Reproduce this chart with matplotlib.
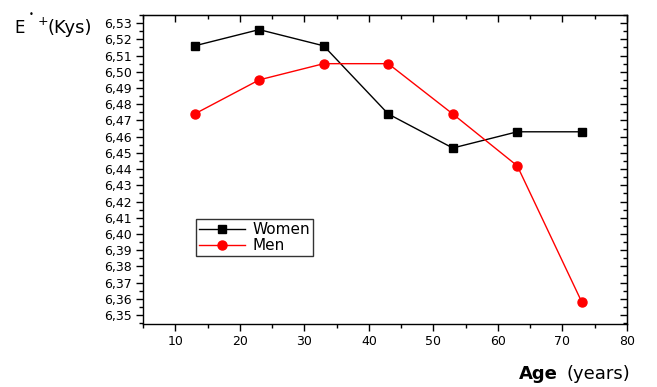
import matplotlib
matplotlib.use("Agg")
import matplotlib.pyplot as plt
from matplotlib.ticker import MultipleLocator

plt.rcParams['font.family'] = ['DejaVu Sans']

ages = [13, 23, 33, 43, 53, 63, 73]
women = [6.516, 6.526, 6.516, 6.474, 6.453, 6.463, 6.463]
men = [6.474, 6.495, 6.505, 6.505, 6.474, 6.442, 6.358]

fig = plt.figure(figsize=(6.57, 3.87), dpi=100)
ax = fig.add_axes([0.2177, 0.1628, 0.7366, 0.7984])

ax.plot(ages, women, color='black', lw=1, marker='s', ms=6, label='Women')
ax.plot(ages, men, color='red', lw=1, marker='o', ms=6.5, label='Men')

ax.set_xlim(5, 80)
ax.set_ylim(6.3445, 6.535)
ax.xaxis.set_major_locator(MultipleLocator(10))
ax.xaxis.set_minor_locator(MultipleLocator(5))
ax.yaxis.set_major_locator(MultipleLocator(0.01))
ax.yaxis.set_minor_locator(MultipleLocator(0.005))
ax.yaxis.set_major_formatter(lambda v, p: f"{v:.2f}".replace('.', ','))

ax.tick_params(which='both', direction='out', labelsize=9, width=1, pad=3)
ax.tick_params(which='major', length=5)
ax.tick_params(which='minor', length=3)

# top and right axes: inward ticks, no labels
tx = ax.secondary_xaxis('top')
tx.xaxis.set_major_locator(MultipleLocator(10))
tx.xaxis.set_minor_locator(MultipleLocator(5))
tx.tick_params(which='both', direction='in', labeltop=False, width=1)
tx.tick_params(which='major', length=5)
tx.tick_params(which='minor', length=3)
ty = ax.secondary_yaxis('right')
ty.yaxis.set_major_locator(MultipleLocator(0.01))
ty.yaxis.set_minor_locator(MultipleLocator(0.005))
ty.tick_params(which='both', direction='in', labelright=False, width=1)
ty.tick_params(which='major', length=5)
ty.tick_params(which='minor', length=3)

for s in ax.spines.values():
    s.set_linewidth(1)

leg = ax.legend(loc='lower left', bbox_to_anchor=(0.11, 0.22), fontsize=11,
                frameon=True, fancybox=False, edgecolor='black',
                handlelength=3.0, borderpad=0.2, labelspacing=0.05,
                handletextpad=0.5, borderaxespad=0)
leg.get_frame().set_linewidth(1)

fig.text(0.022, 0.915, "E", fontsize=12)
fig.text(0.044, 0.955, "•", fontsize=6)
fig.text(0.058, 0.935, "+", fontsize=9)
fig.text(0.072, 0.915, "(Kys)", fontsize=13)

fig.text(0.79, 0.02, "Age", fontsize=13, fontweight='bold')
fig.text(0.862, 0.02, "(years)", fontsize=13)

fig.savefig("out.png", dpi=100)
